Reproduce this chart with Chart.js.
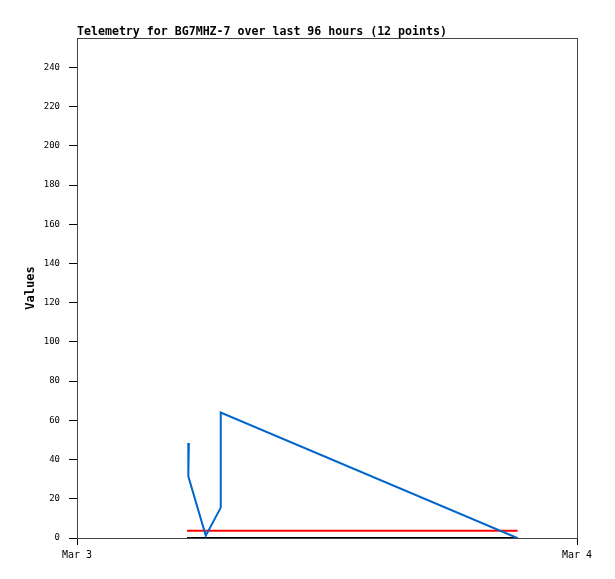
<!DOCTYPE html>
<html>
<head>
<meta charset="utf-8">
<script src="https://cdn.jsdelivr.net/npm/chart.js@4/dist/chart.umd.min.js"></script>
<style>
  html, body { margin: 0; padding: 0; background: #fff; }
  canvas { display: block; }
</style>
</head>
<body>
<canvas id="telemetryChart" width="615" height="579"></canvas>
<script>
// hours since Mar 3 00:00
const blueHours = [5.37, 5.37, 5.33, 5.33, 6.18, 6.90, 6.90, 21.13];
const blueValues = [48.5, 40.3, 40.0, 31.5, 1.2, 15.5, 64.0, 0];
const limitHours = [5.28, 21.15];
const redValues = [3.7, 3.7];
const blackValues = [0, 0];
const xTickLabels = ['Mar 3', 'Mar 4'];
const titleText = 'Telemetry for BG7MHZ-7 over last 96 hours (12 points)';

const toPoints = (xs, ys) => xs.map((x, i) => ({ x: x, y: ys[i] }));

Chart.defaults.font.family = '"DejaVu Sans Mono", monospace';
Chart.defaults.color = '#000';

// gray frame round the plot + the title at the plot's left edge
const framePlugin = {
    id: 'frame',
    beforeDatasetsDraw(chart) {
        const { ctx, chartArea: a } = chart;
        ctx.save();
        ctx.strokeStyle = '#444';
        ctx.lineWidth = 1;
        ctx.strokeRect(Math.round(a.left) + 0.5, Math.round(a.top) + 0.5,
            Math.round(a.right - a.left), Math.round(a.bottom - a.top));
        ctx.restore();
    },
    afterDraw(chart) {
        const { ctx, chartArea: a } = chart;
        ctx.save();
        ctx.font = 'bold 11.6px "DejaVu Sans Mono", monospace';
        ctx.fillStyle = '#000';
        ctx.textAlign = 'left';
        ctx.textBaseline = 'alphabetic';
        ctx.fillText(titleText, a.left, 35);
        ctx.restore();
    }
};

const ctx = document.getElementById('telemetryChart').getContext('2d');
new Chart(ctx, {
    type: 'line',
    data: {
        datasets: [
            {
                label: 'blue',
                data: toPoints(blueHours, blueValues),
                borderColor: '#0066cc',
                borderWidth: 2,
                pointRadius: 0,
                tension: 0
            },
            {
                label: 'red',
                data: toPoints(limitHours, redValues),
                borderColor: '#ff0000',
                borderWidth: 2,
                pointRadius: 0
            },
            {
                label: 'black',
                data: toPoints(limitHours, blackValues),
                borderColor: '#000000',
                borderWidth: 2,
                pointRadius: 0
            }
        ]
    },
    options: {
        responsive: false,
        animation: false,
        layout: { padding: { top: 38, right: 38, left: 0, bottom: 0 } },
        plugins: {
            legend: { display: false },
            tooltip: { enabled: false },
            title: { display: false }
        },
        scales: {
            x: {
                type: 'linear',
                min: 0,
                max: 24,
                afterFit: (axis) => { axis.height = 41; },
                ticks: {
                    stepSize: 24,
                    padding: 4,
                    maxRotation: 0,
                    font: { size: 10 },
                    callback: (v) => xTickLabels[Math.round(v / 24)]
                },
                grid: {
                    drawOnChartArea: false,
                    tickLength: 7,
                    color: '#000'
                },
                border: { color: '#000', width: 1 }
            },
            y: {
                min: 0,
                max: 255,
                afterFit: (axis) => { axis.width = 77; },
                afterBuildTicks: (axis) => {
                    axis.ticks = axis.ticks.filter(t => t.value % 20 === 0);
                },
                ticks: {
                    stepSize: 20,
                    padding: 9,
                    font: { size: 9 }
                },
                grid: {
                    drawOnChartArea: false,
                    tickLength: 8,
                    color: '#000'
                },
                border: { color: '#000', width: 1 },
                title: {
                    display: true,
                    text: 'Values',
                    font: { size: 12, weight: 'bold' },
                    padding: { top: 24, bottom: 0 }
                }
            }
        }
    },
    plugins: [framePlugin]
});
</script>
</body>
</html>
